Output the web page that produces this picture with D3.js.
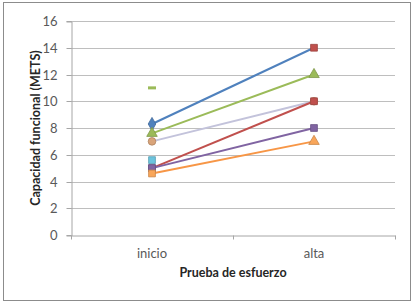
<!DOCTYPE html>
<html>
<head>
<meta charset="utf-8">
<script src="https://cdn.jsdelivr.net/npm/d3@7"></script>
<style>
  body { margin: 0; background: #fff; }
  text { font-family: Lato, "Open Sans", sans-serif; }
</style>
</head>
<body>
<svg id="chart"></svg>
<script>
// data
var categories = ["inicio", "alta"];
var inicio = [8.3, 7.6, 7.0, 5.0, 5.0, 4.6, 11, 5.6];
var alta   = [14, 12, 10, 10, 8, 7, null, null];
var yTicks = [0, 2, 4, 6, 8, 10, 12, 14, 16];

// styles per series
var lineColors = ["#4F81BD", "#9BBB59", "#C3C3DB", "#C0504D", "#8064A2", "#F79646", null, null];
var markInicio = [["#4F81BD", "diamond"], ["#9BBB59", "triangle"], ["#D9A47A", "circle"], ["#8064A2", "square"],
                  ["#8064A2", "square"], ["#F9A65A", "square"], ["#9BBB59", "dash"], ["#6CC4DE", "square"]];
var markAlta = [["#C0504D", "square"], ["#9BBB59", "triangle"], ["#D9A47A", "circle"], ["#C0504D", "square"],
                ["#8064A2", "square"], ["#F9A65A", "triangle"], null, null];

var W = 415, H = 304;
var margin = {top: 21, right: 20, bottom: 69, left: 71};

var svg = d3.select("#chart").attr("width", W).attr("height", H);

// outer frame
svg.append("rect")
    .attr("x", 3.5).attr("y", 2.5)
    .attr("width", 407).attr("height", 298)
    .attr("fill", "#fff").attr("stroke", "#8C8C8C");

var x = d3.scaleBand().domain(categories).range([margin.left, W - margin.right]);
var y = d3.scaleLinear().domain([0, 16]).range([H - margin.bottom, margin.top]);

// gridlines
svg.append("g").selectAll("line")
    .data(yTicks.slice(1))
    .enter().append("line")
    .attr("x1", margin.left).attr("x2", W - margin.right)
    .attr("y1", function(d) { return Math.round(y(d)) + 0.5; })
    .attr("y2", function(d) { return Math.round(y(d)) + 0.5; })
    .style("stroke", "#BEBEBE");

// y axis
var yAxis = svg.append("g")
    .attr("transform", "translate(" + (margin.left + 0.5) + ",0.5)")
    .call(d3.axisLeft(y).tickValues(yTicks).tickSize(5).tickPadding(9));
yAxis.select(".domain").attr("stroke", "#A6A6A6");
yAxis.selectAll(".tick line").attr("stroke", "#A6A6A6");
yAxis.selectAll(".tick").attr("transform", function(d) { return "translate(0," + Math.round(y(d)) + ")"; });
yAxis.selectAll("text").attr("fill", "#595959").style("font-size", "13px").style("font-family", "Lato, sans-serif");

// x axis
var xAxis = svg.append("g")
    .attr("transform", "translate(0," + (Math.round(y(0)) + 0.5) + ")")
    .call(d3.axisBottom(x).tickSize(0).tickPadding(13));
xAxis.select(".domain").attr("stroke", "#A6A6A6");
xAxis.selectAll("text").attr("fill", "#595959").style("font-size", "13px").style("font-family", "Lato, sans-serif");
// ticks between categories
var bounds = [margin.left, margin.left + x.bandwidth(), W - margin.right];
xAxis.selectAll(".sep").data(bounds).enter().append("line")
    .attr("x1", function(d) { return Math.round(d) + 0.5; })
    .attr("x2", function(d) { return Math.round(d) + 0.5; })
    .attr("y1", 0).attr("y2", 4)
    .attr("stroke", "#A6A6A6");

// axis titles
svg.append("text")
    .attr("x", x("inicio") + x.bandwidth()).attr("y", 277)
    .attr("text-anchor", "middle")
    .style("font-size", "12.5px").style("font-weight", "bold").attr("fill", "#262626")
    .text("Prueba de esfuerzo");
svg.append("text")
    .attr("transform", "translate(40," + y(8) + ") rotate(-90)")
    .attr("text-anchor", "middle")
    .style("font-size", "12.5px").style("font-weight", "bold").attr("fill", "#262626")
    .text("Capacidad funcional (METS)");

var cx = function(c) { return x(c) + x.bandwidth() / 2; };

// lines
inicio.forEach(function(v, i) {
    if (alta[i] == null || lineColors[i] == null) return;
    svg.append("line")
        .attr("x1", cx("inicio")).attr("y1", y(v))
        .attr("x2", cx("alta")).attr("y2", y(alta[i]))
        .attr("stroke", lineColors[i]).attr("stroke-width", 2);
});

// markers
function drawMarker(px, py, m) {
    var col = m[0], shape = m[1];
    var stroke = d3.color(col).darker(0.6);
    if (shape === "dash") {
        svg.append("rect").attr("x", px - 4).attr("y", py - 1.5).attr("width", 8).attr("height", 3)
            .attr("fill", col);
        return;
    }
    var sym = {diamond: d3.symbolDiamond, triangle: d3.symbolTriangle, circle: d3.symbolCircle, square: d3.symbolSquare}[shape];
    var size = shape === "diamond" ? 50 : shape === "triangle" ? 48 : 46;
    svg.append("path")
        .attr("d", d3.symbol().type(sym).size(size)())
        .attr("transform", "translate(" + px + "," + py + ")")
        .attr("fill", col).attr("stroke", stroke).attr("stroke-width", 0.8);
}

inicio.forEach(function(v, i) {
    if (v != null) drawMarker(cx("inicio"), y(v), markInicio[i]);
});
alta.forEach(function(v, i) {
    if (v != null) drawMarker(cx("alta"), y(v), markAlta[i]);
});
</script>
</body>
</html>
